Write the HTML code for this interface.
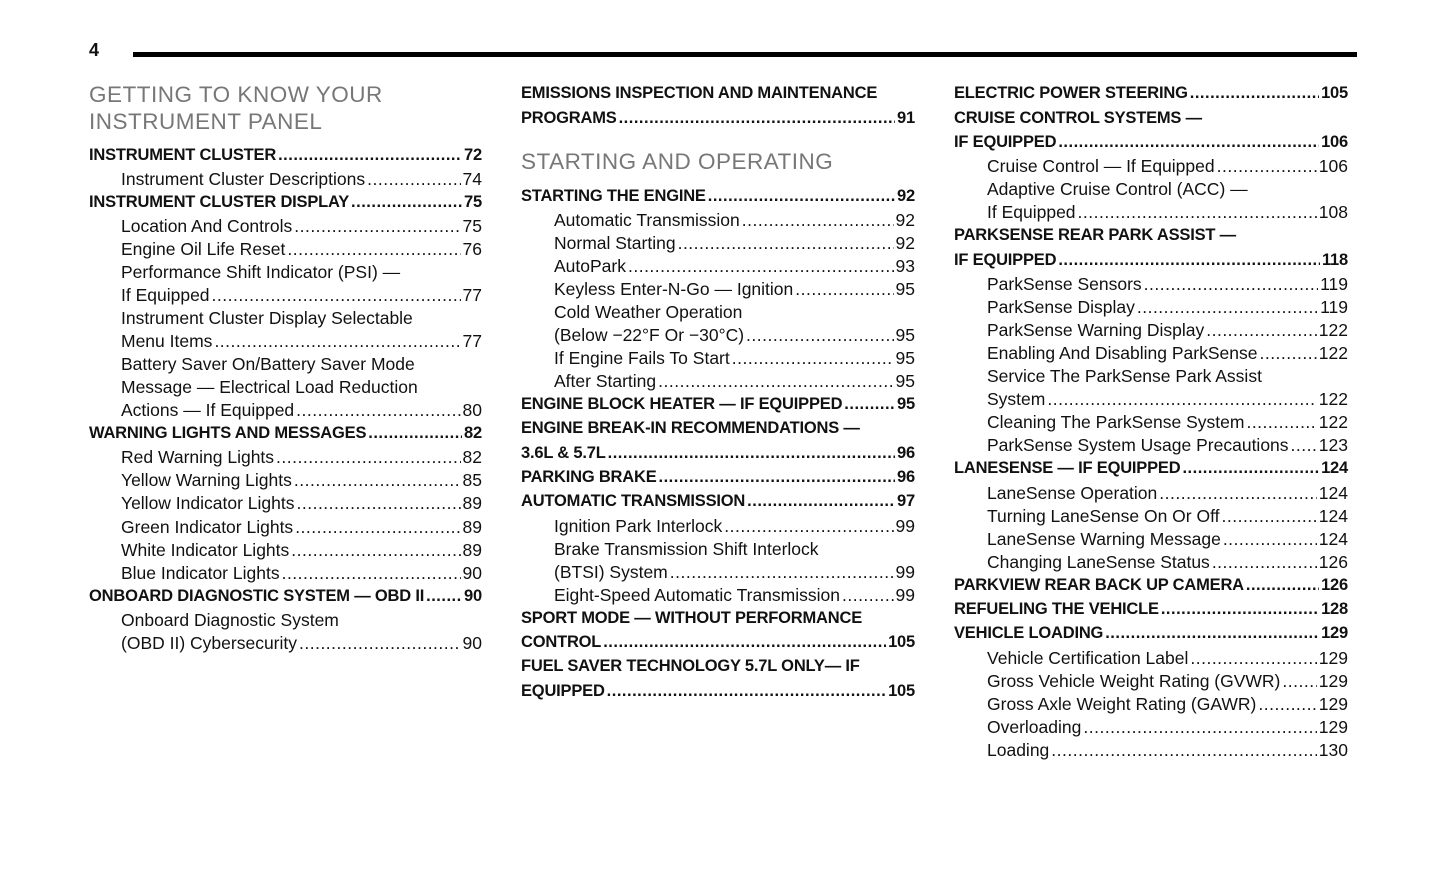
<!DOCTYPE html>
<html><head><meta charset="utf-8"><style>
body{margin:0;background:#fff;width:1445px;height:874px;position:relative;overflow:hidden;font-family:"Liberation Sans",sans-serif;color:#111}
.l{position:absolute;height:22px;line-height:22px;display:flex;white-space:nowrap;font-size:17.5px}
.l i{flex:1;overflow:hidden;font-style:normal;margin:0 2px}
.l i::after{content:"................................................................................................................................................................";letter-spacing:0.5px}
.b{font-weight:bold;font-size:16.5px;letter-spacing:-0.2px}
.c1{left:89px;width:393px}.c1s{left:121px;width:361px}
.c2{left:521px;width:394px}.c2s{left:554px;width:361px}
.c3{left:954px;width:394px}.c3s{left:987px;width:361px}
.h{position:absolute;font-size:22.5px;color:#777;letter-spacing:0.5px;line-height:27px}
</style></head><body>
<div style="position:absolute;left:89px;top:40px;font-size:18px;font-weight:bold">4</div>
<div style="position:absolute;left:133px;top:52px;width:1224px;height:5px;background:#000"></div>

<div class="h" style="left:89px;top:81px">GETTING TO KNOW YOUR<br>INSTRUMENT PANEL</div>
<div class="l b c1" style="top:144px"><span>INSTRUMENT CLUSTER</span><i></i><span>72</span></div>
<div class="l c1s" style="top:168px"><span>Instrument Cluster Descriptions</span><i></i><span>74</span></div>
<div class="l b c1" style="top:191px"><span>INSTRUMENT CLUSTER DISPLAY</span><i></i><span>75</span></div>
<div class="l c1s" style="top:215px"><span>Location And Controls</span><i></i><span>75</span></div>
<div class="l c1s" style="top:238px"><span>Engine Oil Life Reset</span><i></i><span>76</span></div>
<div class="l c1s" style="top:261px"><span>Performance Shift Indicator (PSI) —</span></div>
<div class="l c1s" style="top:284px"><span>If Equipped</span><i></i><span>77</span></div>
<div class="l c1s" style="top:307px"><span>Instrument Cluster Display Selectable</span></div>
<div class="l c1s" style="top:330px"><span>Menu Items</span><i></i><span>77</span></div>
<div class="l c1s" style="top:353px"><span>Battery Saver On/Battery Saver Mode</span></div>
<div class="l c1s" style="top:376px"><span>Message — Electrical Load Reduction</span></div>
<div class="l c1s" style="top:399px"><span>Actions — If Equipped</span><i></i><span>80</span></div>
<div class="l b c1" style="top:422px"><span>WARNING LIGHTS AND MESSAGES</span><i></i><span>82</span></div>
<div class="l c1s" style="top:446px"><span>Red Warning Lights</span><i></i><span>82</span></div>
<div class="l c1s" style="top:469px"><span>Yellow Warning Lights</span><i></i><span>85</span></div>
<div class="l c1s" style="top:492px"><span>Yellow Indicator Lights</span><i></i><span>89</span></div>
<div class="l c1s" style="top:516px"><span>Green Indicator Lights</span><i></i><span>89</span></div>
<div class="l c1s" style="top:539px"><span>White Indicator Lights</span><i></i><span>89</span></div>
<div class="l c1s" style="top:562px"><span>Blue Indicator Lights</span><i></i><span>90</span></div>
<div class="l b c1" style="top:585px"><span>ONBOARD DIAGNOSTIC SYSTEM — OBD II</span><i></i><span>90</span></div>
<div class="l c1s" style="top:609px"><span>Onboard Diagnostic System</span></div>
<div class="l c1s" style="top:632px"><span>(OBD II) Cybersecurity</span><i></i><span>90</span></div>

<div class="l b c2" style="top:82px"><span>EMISSIONS INSPECTION AND MAINTENANCE</span></div>
<div class="l b c2" style="top:107px"><span>PROGRAMS</span><i></i><span>91</span></div>
<div class="h" style="left:521px;top:148px">STARTING AND OPERATING</div>
<div class="l b c2" style="top:185px"><span>STARTING THE ENGINE</span><i></i><span>92</span></div>
<div class="l c2s" style="top:209px"><span>Automatic Transmission</span><i></i><span>92</span></div>
<div class="l c2s" style="top:232px"><span>Normal Starting</span><i></i><span>92</span></div>
<div class="l c2s" style="top:255px"><span>AutoPark</span><i></i><span>93</span></div>
<div class="l c2s" style="top:278px"><span>Keyless Enter-N-Go — Ignition</span><i></i><span>95</span></div>
<div class="l c2s" style="top:301px"><span>Cold Weather Operation</span></div>
<div class="l c2s" style="top:324px"><span>(Below −22°F Or −30°C)</span><i></i><span>95</span></div>
<div class="l c2s" style="top:347px"><span>If Engine Fails To Start</span><i></i><span>95</span></div>
<div class="l c2s" style="top:370px"><span>After Starting</span><i></i><span>95</span></div>
<div class="l b c2" style="top:393px"><span>ENGINE BLOCK HEATER — IF EQUIPPED</span><i></i><span>95</span></div>
<div class="l b c2" style="top:417px"><span>ENGINE BREAK-IN RECOMMENDATIONS —</span></div>
<div class="l b c2" style="top:442px"><span>3.6L &amp; 5.7L</span><i></i><span>96</span></div>
<div class="l b c2" style="top:466px"><span>PARKING BRAKE</span><i></i><span>96</span></div>
<div class="l b c2" style="top:490px"><span>AUTOMATIC TRANSMISSION</span><i></i><span>97</span></div>
<div class="l c2s" style="top:515px"><span>Ignition Park Interlock</span><i></i><span>99</span></div>
<div class="l c2s" style="top:538px"><span>Brake Transmission Shift Interlock</span></div>
<div class="l c2s" style="top:561px"><span>(BTSI) System</span><i></i><span>99</span></div>
<div class="l c2s" style="top:584px"><span>Eight-Speed Automatic Transmission</span><i></i><span>99</span></div>
<div class="l b c2" style="top:607px"><span>SPORT MODE — WITHOUT PERFORMANCE</span></div>
<div class="l b c2" style="top:631px"><span>CONTROL</span><i></i><span>105</span></div>
<div class="l b c2" style="top:655px"><span>FUEL SAVER TECHNOLOGY 5.7L ONLY— IF</span></div>
<div class="l b c2" style="top:680px"><span>EQUIPPED</span><i></i><span>105</span></div>

<div class="l b c3" style="top:82px"><span>ELECTRIC POWER STEERING</span><i></i><span>105</span></div>
<div class="l b c3" style="top:107px"><span>CRUISE CONTROL SYSTEMS —</span></div>
<div class="l b c3" style="top:131px"><span>IF EQUIPPED</span><i></i><span>106</span></div>
<div class="l c3s" style="top:155px"><span>Cruise Control — If Equipped</span><i></i><span>106</span></div>
<div class="l c3s" style="top:178px"><span>Adaptive Cruise Control (ACC) —</span></div>
<div class="l c3s" style="top:201px"><span>If Equipped</span><i></i><span>108</span></div>
<div class="l b c3" style="top:224px"><span>PARKSENSE REAR PARK ASSIST —</span></div>
<div class="l b c3" style="top:249px"><span>IF EQUIPPED</span><i></i><span>118</span></div>
<div class="l c3s" style="top:273px"><span>ParkSense Sensors</span><i></i><span>119</span></div>
<div class="l c3s" style="top:296px"><span>ParkSense Display</span><i></i><span>119</span></div>
<div class="l c3s" style="top:319px"><span>ParkSense Warning Display</span><i></i><span>122</span></div>
<div class="l c3s" style="top:342px"><span>Enabling And Disabling ParkSense</span><i></i><span>122</span></div>
<div class="l c3s" style="top:365px"><span>Service The ParkSense Park Assist</span></div>
<div class="l c3s" style="top:388px"><span>System</span><i></i><span>122</span></div>
<div class="l c3s" style="top:411px"><span>Cleaning The ParkSense System</span><i></i><span>122</span></div>
<div class="l c3s" style="top:434px"><span>ParkSense System Usage Precautions</span><i></i><span>123</span></div>
<div class="l b c3" style="top:457px"><span>LANESENSE — IF EQUIPPED</span><i></i><span>124</span></div>
<div class="l c3s" style="top:482px"><span>LaneSense Operation</span><i></i><span>124</span></div>
<div class="l c3s" style="top:505px"><span>Turning LaneSense On Or Off</span><i></i><span>124</span></div>
<div class="l c3s" style="top:528px"><span>LaneSense Warning Message</span><i></i><span>124</span></div>
<div class="l c3s" style="top:551px"><span>Changing LaneSense Status</span><i></i><span>126</span></div>
<div class="l b c3" style="top:574px"><span>PARKVIEW REAR BACK UP CAMERA</span><i></i><span>126</span></div>
<div class="l b c3" style="top:598px"><span>REFUELING THE VEHICLE</span><i></i><span>128</span></div>
<div class="l b c3" style="top:622px"><span>VEHICLE LOADING</span><i></i><span>129</span></div>
<div class="l c3s" style="top:647px"><span>Vehicle Certification Label</span><i></i><span>129</span></div>
<div class="l c3s" style="top:670px"><span>Gross Vehicle Weight Rating (GVWR)</span><i></i><span>129</span></div>
<div class="l c3s" style="top:693px"><span>Gross Axle Weight Rating (GAWR)</span><i></i><span>129</span></div>
<div class="l c3s" style="top:716px"><span>Overloading</span><i></i><span>129</span></div>
<div class="l c3s" style="top:739px"><span>Loading</span><i></i><span>130</span></div>
</body></html>
